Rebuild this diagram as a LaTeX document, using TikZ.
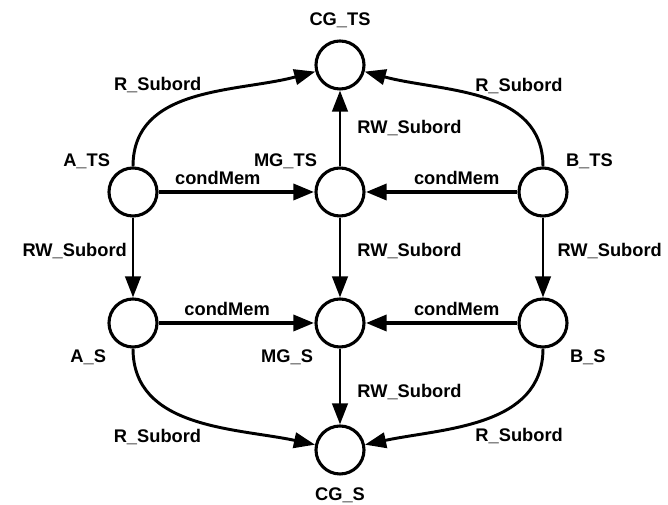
\documentclass[tikz,border=0pt]{standalone}
\usepackage{fontspec}
\setmainfont{Liberation Sans}
\usetikzlibrary{arrows.meta}

\begin{document}
\begin{tikzpicture}[
      st/.style={circle, draw, line width=2.2pt, minimum size=1.2cm, inner sep=0pt},
      fl/.style={line width=2.1pt, -{Triangle[length=15pt,width=11pt]}},
      fm/.style={line width=3.4pt, -{Triangle[length=15pt,width=11pt]}},
      every node/.style={font=\fontsize{13}{15}\selectfont\bfseries}]
    \useasboundingbox (0,0) rectangle (16.7,12.625);
    \node[st, label={[label distance=5pt]above:CG\_TS}]   (cgts) at (8.5,11.0)    {};
    \node[st, label={above left:A\_TS}]                  (ats)  at (3.325,7.825)  {};
    \node[st, label={above left:MG\_TS}]                 (mgts) at (8.5,7.825)    {};
    \node[st, label={above right:B\_TS}]                 (bts)  at (13.575,7.825) {};
    \node[st, label={[label distance=4pt]below left:A\_S}]  (as)   at (3.325,4.55)   {};
    \node[st, label={[label distance=4pt]below left:MG\_S}] (mgs)  at (8.5,4.55)     {};
    \node[st, label={[label distance=4pt]below right:B\_S}] (bs)   at (13.575,4.55)  {};
    \node[st, label={[label distance=5pt]below:CG\_S}]    (cgs)  at (8.5,1.375)    {};

    \draw[fl] (ats) to[out=90,in=195] node[pos=0.3,above=11pt] {R\_Subord} (cgts);
    \draw[fl] (bts) to[out=90,in=-15] node[pos=0.3,above=11pt] {R\_Subord} (cgts);
    \draw[fl] (mgts) -- node[right=8pt] {RW\_Subord} (cgts);
    \draw[fm] (ats) -- node[pos=0.38,above] {condMem} (mgts);
    \draw[fm] (bts) -- node[pos=0.4,above] {condMem} (mgts);
    \draw[fl] (ats) -- node[pos=0.42,left] {RW\_Subord} (as);
    \draw[fl] (mgts) -- node[pos=0.42,right=8pt] {RW\_Subord} (mgs);
    \draw[fl] (bts) -- node[pos=0.42,right=6pt] {RW\_Subord} (bs);
    \draw[fm] (as) -- node[pos=0.44,above] {condMem} (mgs);
    \draw[fm] (bs) -- node[pos=0.4,above] {condMem} (mgs);
    \draw[fl] (mgs) -- node[pos=0.57,right=8pt] {RW\_Subord} (cgs);
    \draw[fl] (as) to[out=-90,in=168] node[pos=0.3,below=15pt] {R\_Subord} (cgs);
    \draw[fl] (bs) to[out=-90,in=12] node[pos=0.3,below=15pt] {R\_Subord} (cgs);
  \end{tikzpicture}
\end{document}
